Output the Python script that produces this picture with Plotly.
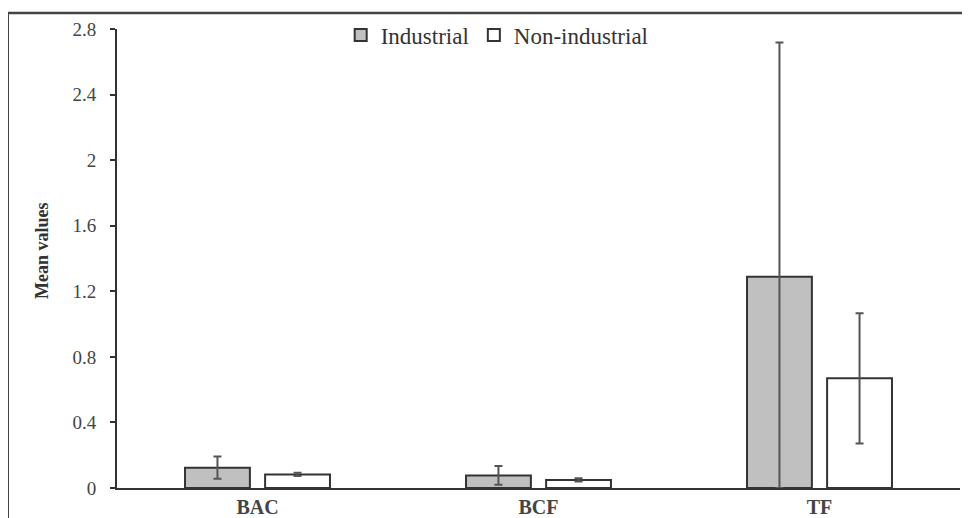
import plotly.graph_objects as go

categories = ["BAC", "BCF", "TF"]
industrial = [0.124, 0.077, 1.289]
industrial_err_plus = [0.068, 0.057, 1.428]
industrial_err_minus = [0.068, 0.057, 1.289]
non_industrial = [0.083, 0.049, 0.669]
non_industrial_err = [0.010, 0.010, 0.397]
y_ticks = [0, 0.4, 0.8, 1.2, 1.6, 2, 2.4, 2.8]
y_ticklabels = ["0", "0.4", "0.8", "1.2", "1.6", "2", "2.4", "2.8"]

FONT = "Liberation Serif"
DARK = "#333333"

fig = go.Figure()
fig.add_trace(go.Bar(
    name="Industrial", x=categories, y=industrial,
    marker=dict(color="#c0c0c0", line=dict(color=DARK, width=2)),
    error_y=dict(type="data", symmetric=False, array=industrial_err_plus,
                 arrayminus=industrial_err_minus, color="#555555",
                 thickness=2, width=4),
))
fig.add_trace(go.Bar(
    name="Non-industrial", x=categories, y=non_industrial,
    marker=dict(color="#ffffff", line=dict(color=DARK, width=2)),
    error_y=dict(type="data", array=non_industrial_err, color="#555555",
                 thickness=2, width=4),
))

fig.update_layout(
    width=962, height=510,
    margin=dict(l=109, r=10, t=2, b=30),
    paper_bgcolor="white", plot_bgcolor="white",
    barmode="group", bargap=0.43, bargroupgap=0.19,
    font=dict(family=FONT, color="#333333", size=16),
    showlegend=True,
    legend=dict(orientation="h", x=0.451, xanchor="center", y=0.9477, yanchor="middle",
                font=dict(family=FONT, size=23, color="#333333"),
                bgcolor="rgba(0,0,0,0)", traceorder="normal", itemwidth=30),
    xaxis=dict(showline=True, linecolor=DARK, linewidth=2, ticks="", automargin=False,
               tickvals=categories, ticktext=["<b>%s</b>" % c for c in categories],
               tickfont=dict(family=FONT, size=20, color="#444444"),
               showgrid=False),
    yaxis=dict(range=[0, 2.8], domain=[0, 0.9603], tickvals=y_ticks, ticktext=y_ticklabels,
               showline=True, linecolor=DARK, linewidth=2, ticks="outside", automargin=False,
               ticklen=5, tickcolor=DARK, tickwidth=2, showgrid=False, zeroline=False,
               ticklabelstandoff=10,
               tickfont=dict(family=FONT, size=19, color="#444444")),
    shapes=[
        dict(type="line", xref="paper", yref="paper", x0=-0.1293, x1=1.03, y0=0.9937, y1=0.9937,
             line=dict(color="#444444", width=2.5)),
        dict(type="line", xref="paper", yref="paper", x0=-0.1293, x1=-0.1293, y0=-0.07, y1=0.9937,
             line=dict(color="#444444", width=2)),
    ],
    annotations=[
        dict(text="<b>Mean values</b>", xref="paper", yref="paper", x=-0.089, y=0.498,
             xanchor="center", yanchor="middle",
             textangle=-90, showarrow=False, font=dict(family=FONT, size=18, color="#333333")),
    ],
)

fig.write_html("out.html")
